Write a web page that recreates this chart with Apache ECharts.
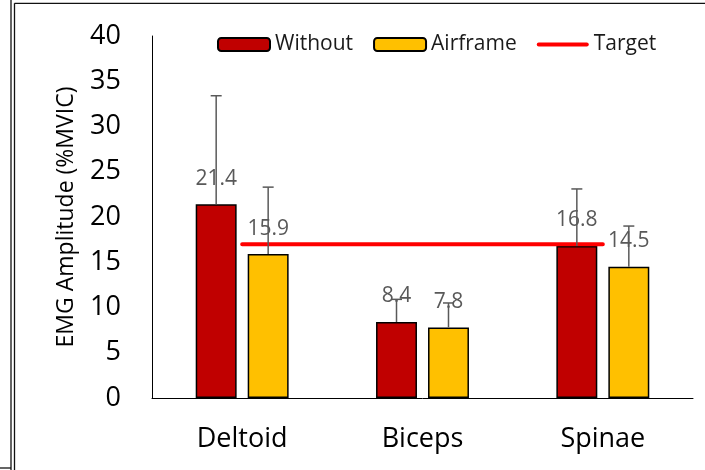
<!DOCTYPE html>
<html><head><meta charset="utf-8">
<script src="https://cdn.jsdelivr.net/npm/echarts@6/dist/echarts.min.js"></script>
<style>html,body{margin:0;padding:0;background:#fff}#c{width:705px;height:470px}</style>
</head><body><div id="c"></div>
<script>
const categories = ['Deltoid', 'Biceps', 'Spinae'];
const withoutVals = [21.4, 8.4, 16.8];
const airframeVals = [15.9, 7.8, 14.5];
const withoutErr = [12.0, 2.5, 6.3];
const airframeErr = [7.4, 2.7, 4.5];
const targetVals = [17, 17, 17];
const seriesNames = ['Without', 'Airframe', 'Target'];
const yMin = 0, yMax = 40, yStep = 5;

const FONT = 'Open Sans';
const BAR_FRAC = 0.227, GAP_FRAC = 0.27;
const LINE_ICON = 'path://M2,0 L50,0 A2,2 0 0 1 50,4 L2,4 A2,2 0 0 1 2,0 Z';

function errRender(sign) {
  return function (params, api) {
    const x = api.value(0), v = api.value(1), e = api.value(2);
    const base = api.coord([x, v]);
    const top = api.coord([x, v + e]);
    const band = api.size([1, 0])[0];
    const bw = band * BAR_FRAC, gap = bw * GAP_FRAC;
    const cx = base[0] + sign * (bw + gap) / 2;
    const cap = 5.5;
    const st = { stroke: '#595959', lineWidth: 1.5 };
    return { type: 'group', children: [
      { type: 'line', shape: { x1: cx, y1: base[1], x2: cx, y2: top[1] }, style: st },
      { type: 'line', shape: { x1: cx - cap, y1: top[1], x2: cx + cap, y2: top[1] }, style: st }
    ]};
  };
}

const chart = echarts.init(document.getElementById('c'), null, { renderer: 'canvas' });
const labelCfg = { show: true, position: 'top', distance: 15, color: '#595959', fontSize: 21, fontFamily: FONT };
chart.setOption({
  animation: false,
  textStyle: { fontFamily: FONT },
  grid: { left: 152, right: 12, top: 36, bottom: 72 },
  legend: {
    data: [
      { name: seriesNames[0] },
      { name: seriesNames[1] },
      { name: seriesNames[2], icon: LINE_ICON, itemStyle: { color: '#FF0000', borderWidth: 0 } }
    ],
    left: 217, top: 34, padding: 0,
    itemWidth: 52, itemHeight: 13, itemGap: 20,
    textStyle: { fontSize: 21, color: '#1a1a1a', fontFamily: FONT }
  },
  xAxis: {
    type: 'category', data: categories,
    axisLine: { lineStyle: { color: '#000', width: 1 } },
    axisTick: { show: false },
    axisLabel: { fontSize: 27, color: '#000', margin: 28, fontFamily: FONT }
  },
  yAxis: {
    type: 'value', min: yMin, max: yMax, interval: yStep,
    name: 'EMG Amplitude (%MVIC)', nameLocation: 'middle', nameGap: 74,
    nameTextStyle: { fontSize: 23, color: '#000', fontFamily: FONT },
    axisLine: { show: true, lineStyle: { color: '#000', width: 1 } },
    axisTick: { show: false },
    splitLine: { show: false },
    axisLabel: { fontSize: 27, color: '#000', margin: 31, fontFamily: FONT }
  },
  graphic: [
    { type: 'line', shape: { x1: 11, y1: 0, x2: 11, y2: 470 }, style: { stroke: '#111', lineWidth: 1.3 } },
    { type: 'line', shape: { x1: 14.5, y1: 3.3, x2: 14.5, y2: 470 }, style: { stroke: '#111', lineWidth: 1.3 } },
    { type: 'line', shape: { x1: 14.5, y1: 3.3, x2: 705, y2: 3.3 }, style: { stroke: '#111', lineWidth: 1.3 } },
    { type: 'line', shape: { x1: 0, y1: 468, x2: 11, y2: 468 }, style: { stroke: '#111', lineWidth: 1.3 } }
  ],
  series: [
    { name: seriesNames[0], type: 'bar', data: withoutVals, barWidth: (BAR_FRAC * 100) + '%', barGap: (GAP_FRAC * 100) + '%',
      itemStyle: { color: '#C00000', borderColor: '#000', borderWidth: 1.5 }, label: labelCfg, z: 2 },
    { name: seriesNames[1], type: 'bar', data: airframeVals, barWidth: (BAR_FRAC * 100) + '%', barGap: (GAP_FRAC * 100) + '%',
      itemStyle: { color: '#FFC000', borderColor: '#000', borderWidth: 1.5 }, label: labelCfg, z: 2 },
    { name: seriesNames[2], type: 'line', data: targetVals, symbol: 'none', showSymbol: false,
      lineStyle: { color: '#FF0000', width: 4, cap: 'round' }, itemStyle: { color: '#FF0000' }, z: 3 },
    { type: 'custom', renderItem: errRender(-1), z: 4,
      data: withoutVals.map((v, i) => [i, v, withoutErr[i]]) },
    { type: 'custom', renderItem: errRender(1), z: 4,
      data: airframeVals.map((v, i) => [i, v, airframeErr[i]]) }
  ]
});
</script></body></html>
